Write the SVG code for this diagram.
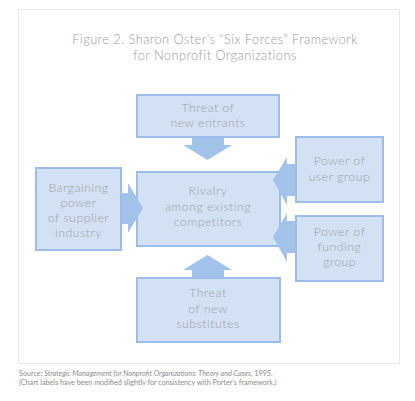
<svg xmlns="http://www.w3.org/2000/svg" width="415" height="401" viewBox="0 0 415 401">
<style>
.box{fill:#d3e1f5;stroke:#9bbde8;stroke-width:2}
.arr{fill:#a3c2e9}
.t{font-family:Lato,"Liberation Sans",sans-serif;font-size:12.3px;letter-spacing:0.5px;font-weight:300;fill:#a0a0a0;text-anchor:middle}
.title{font-family:Lato,"Liberation Sans",sans-serif;font-size:12.8px;letter-spacing:0.45px;font-weight:300;fill:#999;text-anchor:middle}
.foot{font-family:Lato,"Liberation Sans",sans-serif;font-size:7.2px;fill:#8c8c8c}
</style>
<rect width="415" height="401" fill="#fff"/>
<rect x="18.5" y="9.5" width="381" height="354" fill="#fff" stroke="#e8e8e8" stroke-width="1"/>
<text class="title" x="215" y="44">Figure 2. Sharon Oster’s “Six Forces” Framework</text>
<text class="title" x="215" y="59.5">for Nonprofit Organizations</text>
<g id="entrants"><rect class="box" x="137" y="95" width="142" height="42"/>
<text class="t" x="208" y="112">Threat of</text><text class="t" x="208" y="127">new entrants</text></g>
<g id="rivalry"><rect class="box" x="137" y="172" width="143" height="74"/>
<text class="t" x="208" y="195">Rivalry</text><text class="t" x="208" y="210.5">among existing</text><text class="t" x="208" y="226">competitors</text></g>
<g id="supplier"><rect class="box" x="36" y="168" width="85" height="82"/>
<text class="t" x="78.5" y="191.5">Bargaining</text><text class="t" x="78.5" y="206.5">power</text><text class="t" x="78.5" y="221.5">of supplier</text><text class="t" x="78.5" y="236.5">industry</text></g>
<g id="user"><rect class="box" x="296" y="137" width="87" height="65"/>
<text class="t" x="339.5" y="165">Power of</text><text class="t" x="339.5" y="180.5">user group</text></g>
<g id="funding"><rect class="box" x="296" y="216" width="87" height="65"/>
<text class="t" x="339.5" y="236">Power of</text><text class="t" x="339.5" y="251">funding</text><text class="t" x="339.5" y="266">group</text></g>
<g id="substitutes"><rect class="box" x="137" y="278" width="143" height="64"/>
<text class="t" x="208" y="297">Threat</text><text class="t" x="208" y="312.5">of new</text><text class="t" x="208" y="328">substitutes</text></g>
<g id="connectors">
<polygon class="arr" points="192,138 224,138 224,145 232,145 207.5,160 183,145 192,145"/>
<polygon class="arr" points="192,277 224,277 224,270 232,270 207.5,255 183,270 192,270"/>
<polygon class="arr" points="122,193 128,193 128,183 143,208 128,233 128,224 122,224"/>
<polygon class="arr" points="295,164 287,164 287,157 273,180 287,205 287,196 295,196"/>
<polygon class="arr" points="295,221 287,221 287,213 273,237 287,262 287,253 295,253"/>
</g>
<text class="foot" x="19" y="375.5">Source: <tspan font-style="italic">Strategic Management for Nonprofit Organizations: Theory and Cases</tspan>, 1995.</text>
<text class="foot" x="19" y="384.5">(Chart labels have been modified slightly for consistency with Porter’s framework.)</text>
</svg>
